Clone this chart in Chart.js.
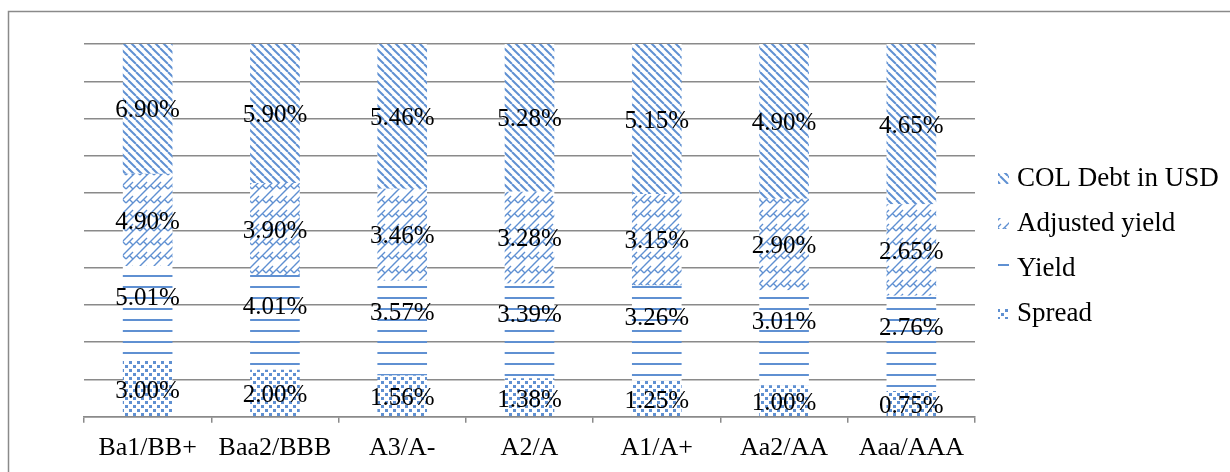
<!DOCTYPE html>
<html>
<head>
<meta charset="utf-8">
<script src="https://cdn.jsdelivr.net/npm/chart.js@4.4.0/dist/chart.umd.min.js"></script>
<style>
  html, body { margin: 0; padding: 0; background: #fff; }
  #wrap { width: 1230px; height: 472px; position: relative; }
</style>
</head>
<body>
<div id="wrap"><canvas id="chart"></canvas></div>
<script>
// data
const categories = ['Ba1/BB+', 'Baa2/BBB', 'A3/A-', 'A2/A', 'A1/A+', 'Aa2/AA', 'Aaa/AAA'];
const spread = [3.00, 2.00, 1.56, 1.38, 1.25, 1.00, 0.75];
const yieldValues = [5.01, 4.01, 3.57, 3.39, 3.26, 3.01, 2.76];
const adjustedYield = [4.90, 3.90, 3.46, 3.28, 3.15, 2.90, 2.65];
const colDebt = [6.90, 5.90, 5.46, 5.28, 5.15, 4.90, 4.65];
const seriesNames = ['Spread', 'Yield', 'Adjusted yield', 'COL Debt in USD'];

const BLUE = '#5f90d2';
const GRID = '#8a8a8a';
const FONT = "'Liberation Serif', 'Times New Roman', serif";

// pattern fills
function makeTile(w, h, draw) {
  const c = document.createElement('canvas');
  c.width = w; c.height = h;
  const g = c.getContext('2d');
  g.fillStyle = '#fff';
  g.fillRect(0, 0, w, h);
  g.strokeStyle = BLUE;
  g.fillStyle = BLUE;
  draw(g, w, h);
  return document.createElement('canvas').getContext('2d').createPattern(c, 'repeat');
}

const dotsPattern = makeTile(8, 8, function (g) {
  g.fillRect(1, 1, 3, 3);
  g.fillRect(5, 5, 3, 3);
});

const hLinesPattern = makeTile(4, 11, function (g) {
  g.fillRect(0, 0, 4, 2);
});

const brickPattern = makeTile(14, 14, function (g) {
  g.lineWidth = 1.4;
  for (let ox = -14; ox <= 14; ox += 14) {
    for (let oy = -14; oy <= 14; oy += 14) {
      g.beginPath();
      g.moveTo(ox + 0, oy + 7); g.lineTo(ox + 7, oy + 0);
      g.moveTo(ox + 0, oy + 14); g.lineTo(ox + 14, oy + 0);
      g.moveTo(ox + 3.5, oy + 3.5); g.lineTo(ox + 7, oy + 7);
      g.moveTo(ox + 10.5, oy + 3.5); g.lineTo(ox + 14, oy + 7);
      g.stroke();
    }
  }
});

const diagPattern = makeTile(8, 8, function (g) {
  g.lineWidth = 2;
  for (let o = -8; o <= 8; o += 8) {
    g.beginPath();
    g.moveTo(o, 0);
    g.lineTo(o + 8, 8);
    g.stroke();
  }
});

const rawSeries = [spread, yieldValues, adjustedYield, colDebt];
const patterns = [dotsPattern, hLinesPattern, brickPattern, diagPattern];
const labelShift = [3, -15, 2, 2];

// 100% stacked: share of each category total
const totals = categories.map((c, i) => rawSeries.reduce((s, arr) => s + arr[i], 0));

const datasets = rawSeries.map(function (arr, k) {
  return {
    label: seriesNames[k],
    data: arr.map((v, i) => v / totals[i] * 100),
    raw: arr,
    backgroundColor: patterns[k],
    borderWidth: 0,
    barPercentage: 0.39,
    categoryPercentage: 1.0
  };
});

const frame = {
  id: 'frame',
  beforeDraw(chart) {
    const c = chart.ctx;
    c.save();
    c.fillStyle = '#fff';
    c.fillRect(0, 0, chart.width, chart.height);
    c.strokeStyle = GRID;
    c.lineWidth = 1.5;
    c.strokeRect(8.5, 11.5, 1400, 700);
    c.restore();
  }
};

const valueLabels = {
  id: 'valueLabels',
  afterDatasetsDraw(chart) {
    const c = chart.ctx;
    c.save();
    c.font = '25px ' + FONT;
    c.fillStyle = '#000';
    c.textAlign = 'center';
    c.textBaseline = 'middle';
    chart.data.datasets.forEach(function (ds, k) {
      chart.getDatasetMeta(k).data.forEach(function (bar, i) {
        const y = (bar.y + bar.base) / 2 + labelShift[k];
        c.fillText(ds.raw[i].toFixed(2) + '%', bar.x, y);
      });
    });
    c.restore();
  }
};

const sideLegend = {
  id: 'sideLegend',
  afterDraw(chart) {
    const c = chart.ctx;
    c.save();
    c.font = '27px ' + FONT;
    c.textBaseline = 'middle';
    const n = chart.data.datasets.length;
    for (let j = 0; j < n; j++) {
      const k = n - 1 - j;
      const cy = 178 + j * 45;
      c.fillStyle = chart.data.datasets[k].backgroundColor;
      c.fillRect(998, cy - 5, 11, 11);
      c.fillStyle = '#000';
      c.fillText(chart.data.datasets[k].label, 1017, cy + 1);
    }
    c.restore();
  }
};

new Chart(document.getElementById('chart'), {
  type: 'bar',
  data: { labels: categories, datasets: datasets },
  plugins: [frame, valueLabels, sideLegend],
  options: {
    responsive: true,
    maintainAspectRatio: false,
    devicePixelRatio: 1,
    animation: false,
    layout: { padding: { left: 84, right: 255, top: 44, bottom: -2 } },
    plugins: {
      legend: { display: false },
      tooltip: { enabled: false }
    },
    scales: {
      x: {
        stacked: true,
        grid: {
          display: true,
          drawOnChartArea: false,
          drawTicks: true,
          tickLength: 6,
          color: GRID,
          lineWidth: 1.5
        },
        border: { display: true, color: GRID, width: 1.5 },
        ticks: {
          color: '#000',
          font: { family: FONT, size: 26 },
          padding: 10,
          maxRotation: 0
        }
      },
      y: {
        stacked: true,
        min: 0,
        max: 100,
        ticks: { display: false, stepSize: 10 },
        grid: { color: GRID, lineWidth: 1.5, drawTicks: false },
        border: { display: false }
      }
    }
  }
});
</script>
</body>
</html>
